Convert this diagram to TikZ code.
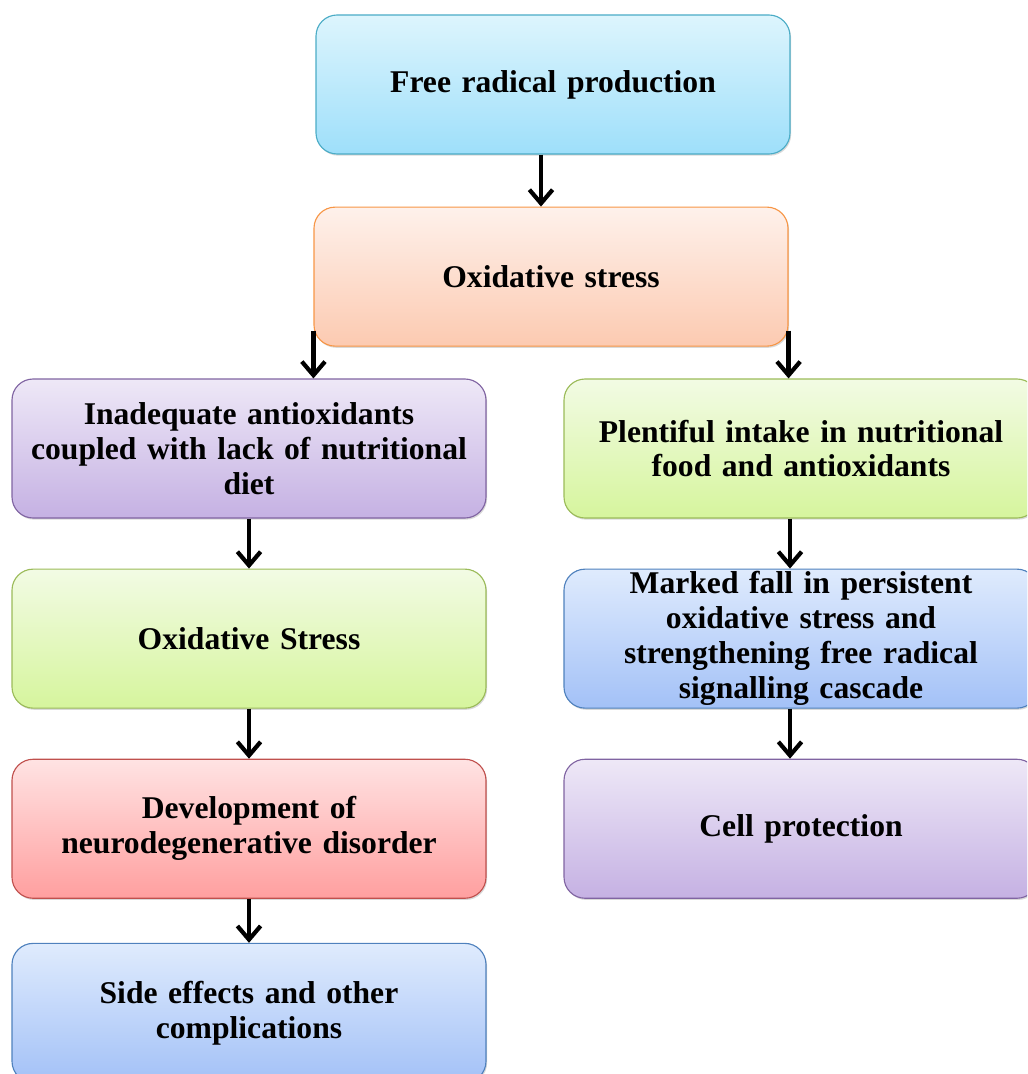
\documentclass[tikz,border=0pt]{standalone}
\usepackage{fontspec}
\setmainfont[WordSpace=0.85]{Liberation Serif}
\usetikzlibrary{arrows.meta,positioning,shadows}
\definecolor{cyantop}{HTML}{DDF5FD}
\definecolor{cyanbot}{HTML}{9EDFFA}
\definecolor{cyanedge}{HTML}{4BACC6}
\definecolor{peachtop}{HTML}{FEF1EB}
\definecolor{peachbot}{HTML}{FCCAB1}
\definecolor{peachedge}{HTML}{F79646}
\definecolor{lilactop}{HTML}{EEE8F7}
\definecolor{lilacbot}{HTML}{C5B1E3}
\definecolor{lilacedge}{HTML}{8064A2}
\definecolor{limetop}{HTML}{F2FBE4}
\definecolor{limebot}{HTML}{D6F59D}
\definecolor{limeedge}{HTML}{9BBB59}
\definecolor{skytop}{HTML}{DFEBFD}
\definecolor{skybot}{HTML}{A3C1F7}
\definecolor{skyedge}{HTML}{4F81BD}
\definecolor{redtop}{HTML}{FFE3E3}
\definecolor{redbot}{HTML}{FF9F9F}
\definecolor{rededge}{HTML}{C0504D}
\tikzset{
  block/.style={
    rectangle,
    rounded corners=15pt,
    line width=0.8pt,
    align=center,
    inner ysep=0pt,
    minimum width=11.85cm,
    minimum height=3.475cm,
    text width=11.3cm,
    font=\fontsize{22.5}{24.8}\selectfont\bfseries,
    drop shadow={opacity=0.3, shadow xshift=0.8pt, shadow yshift=-1.2pt}
  },
  cyanbox/.style={block, draw=cyanedge, top color=cyantop, bottom color=cyanbot},
  peachbox/.style={block, draw=peachedge, top color=peachtop, bottom color=peachbot},
  lilacbox/.style={block, draw=lilacedge, top color=lilactop, bottom color=lilacbot},
  limebox/.style={block, draw=limeedge, top color=limetop, bottom color=limebot},
  skybox/.style={block, draw=skyedge, top color=skytop, bottom color=skybot},
  redbox/.style={block, draw=rededge, top color=redtop, bottom color=redbot},
  arrow/.style={
    -{Straight Barb[length=3.4mm,width=5.8mm]},
    line width=3pt,
    draw=black
  }
}
\begin{document}
\begin{tikzpicture}[node distance=1.25cm and 1cm]
  \useasboundingbox (0,0) rectangle (25.675,-26.85);
  \clip (0,0) rectangle (25.675,-26.85);

  \node[cyanbox] (free) at (13.825,-2.1125) {Free radical production};
  \node[peachbox, below=1.3cm of free, xshift=-0.05cm] (ox) {Oxidative stress};

  \node[lilacbox] (inad) at (6.225,-11.2125) {Inadequate antioxidants\\coupled with lack of nutritional\\diet};
  \node[limebox, below=of inad] (oxs) {Oxidative Stress};
  \node[redbox, below=of oxs] (dev) {Development of\\neurodegenerative disorder};
  \node[skybox, below=1.1cm of dev] (side) {Side effects and other\\complications};

  \node[limebox] (plent) at (20.025,-11.2125) {Plentiful intake in nutritional\\food and antioxidants};
  \node[skybox, below=of plent] (fall) {Marked fall in persistent\\oxidative stress and\\strengthening free radical\\signalling cascade};
  \node[lilacbox, below=of fall] (cell) {Cell protection};

  \draw[arrow] ([xshift=-3mm]free.south) -- ([xshift=-3mm]free.south |- ox.north);
  \draw[arrow] ([yshift=4mm]ox.south west) -- (ox.south west |- inad.north);
  \draw[arrow] ([yshift=4mm]ox.south east) -- (ox.south east |- plent.north);
  \draw[arrow] (inad) -- (oxs);
  \draw[arrow] (oxs) -- (dev);
  \draw[arrow] (dev) -- (side);
  \draw[arrow] ([xshift=-2.75mm]plent.south) -- ([xshift=-2.75mm]plent.south |- fall.north);
  \draw[arrow] ([xshift=-2.75mm]fall.south) -- ([xshift=-2.75mm]fall.south |- cell.north);
\end{tikzpicture}
\end{document}
